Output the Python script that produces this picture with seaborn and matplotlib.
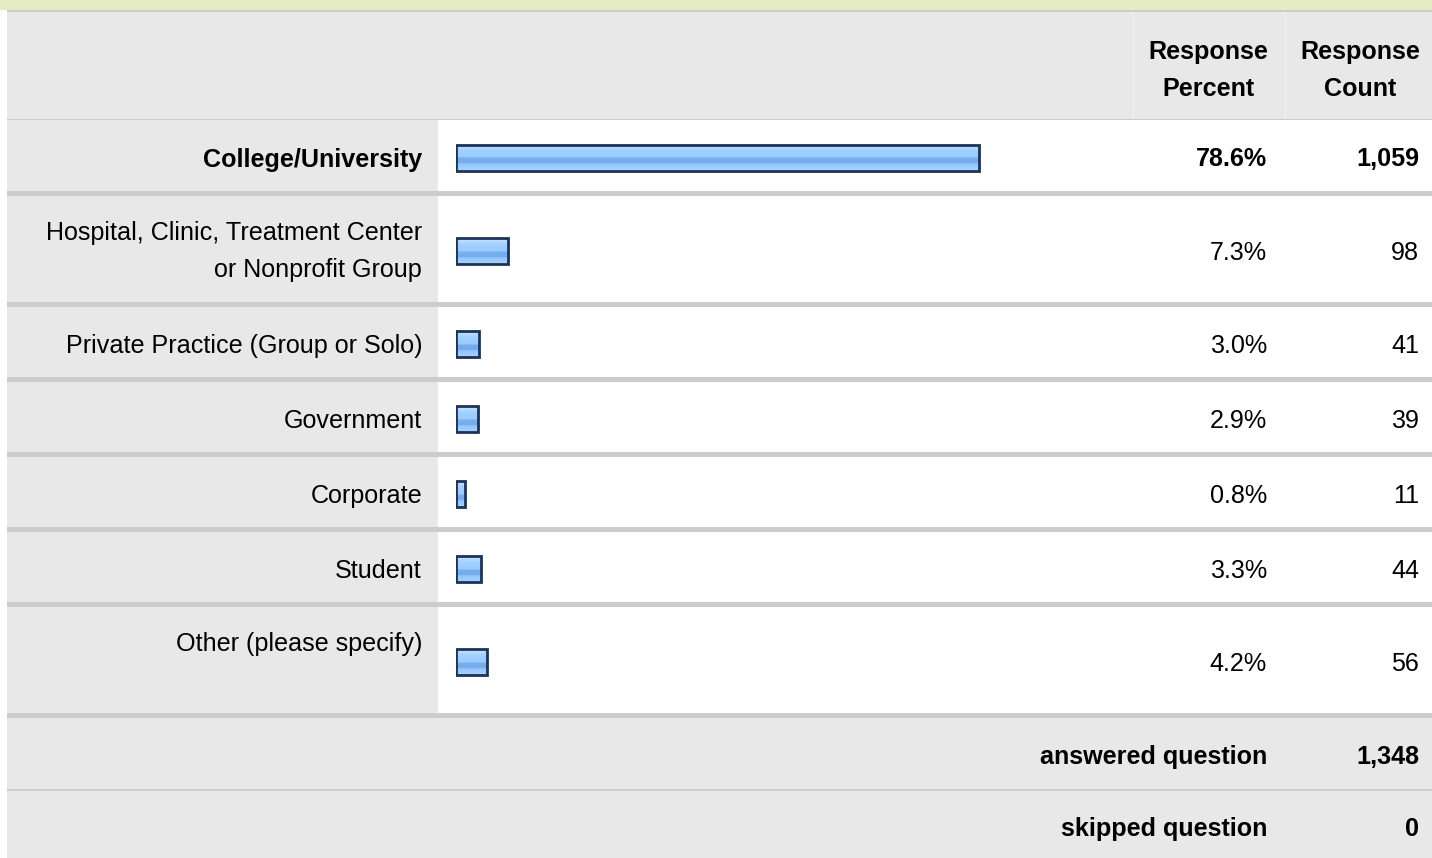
import numpy as np
import pandas as pd
import seaborn as sns
import matplotlib.pyplot as plt
from matplotlib.patches import Rectangle
from matplotlib.colors import LinearSegmentedColormap

# survey answers
categories = ["College/University",
              "Hospital, Clinic, Treatment Center\nor Nonprofit Group",
              "Private Practice (Group or Solo)",
              "Government",
              "Corporate",
              "Student",
              "Other (please specify)"]
percents = [78.6, 7.3, 3.0, 2.9, 0.8, 3.3, 4.2]
counts = [1059, 98, 41, 39, 11, 44, 56]
answered = 1348
skipped = 0

W, H = 1432, 858
GRAY = "#e8e8e8"
LINE = "#cccccc"
FS = 18.1
LH = 37  # line height in px

sns.set_theme(style="white")
plt.rcParams["font.family"] = ["Liberation Sans", "DejaVu Sans"]

fig = plt.figure(figsize=(W / 100, H / 100), dpi=100)
fig.patch.set_facecolor("white")
ax = fig.add_axes([0, 0, 1, 1])
ax.set_xlim(0, W)
ax.set_ylim(H, 0)
ax.axis("off")


def box(x, y, w, h, c):
    ax.add_patch(Rectangle((x, y), w, h, facecolor=c, edgecolor="none", zorder=0))


def label(x, base, s, ha="right", bold=False):
    for k, line in enumerate(s.split("\n")):
        ax.text(x, base + k * LH, line, ha=ha, va="baseline", fontsize=FS,
                color="black", fontweight="bold" if bold else "normal")


# header
box(0, 0, W, 10, "#e5ebc1")
box(7, 10, W - 7, 1.5, LINE)
box(7, 11.5, W - 7, 107, GRAY)
box(7, 118.5, W - 7, 1.5, LINE)
for xv in [1133, 1285]:
    ax.plot([xv, xv], [12, 118], color="#efefef", lw=1, zorder=1)
label(1208, 59.5, "Response\nPercent", ha="center", bold=True)
label(1360, 59.5, "Response\nCount", ha="center", bold=True)

# rows
row_heights = [71, 106, 70, 70, 70, 70, 106]
sep = 5
tops = []
y = 120
for h in row_heights:
    tops.append(y)
    y += h + sep
centers = [t + h / 2 for t, h in zip(tops, row_heights)]

for i, (t, h) in enumerate(zip(tops, row_heights)):
    box(7, t, 431, h, GRAY)
    box(438, t, W - 438, h, "white")
    box(7, t + h, W - 7, sep, LINE)
    bold = i == 0
    n_lines = categories[i].count("\n") + 1
    if categories[i].startswith("Other") or n_lines > 1:
        label(422, t + 44, categories[i], bold=bold)
    else:
        label(422, centers[i] + 11, categories[i], bold=bold)
    label(1267, centers[i] + 11, f"{percents[i]:.1f}%", bold=bold)
    label(1419, centers[i] + 11, f"{counts[i]:,}", bold=bold)

# footer
box(7, 718, W - 7, 71, GRAY)
box(7, 789, W - 7, 1.5, LINE)
box(7, 790.5, W - 7, 68, GRAY)
label(1267, 764, "answered question", bold=True)
label(1419, 764, f"{answered:,}", bold=True)
label(1267, 836, "skipped question", bold=True)
label(1419, 836, f"{skipped:,}", bold=True)

# bars
bx = fig.add_axes([456.4 / W, 0, 661 / W, 1])
bx.patch.set_alpha(0)
df = pd.DataFrame({"category": categories, "percent": percents,
                   "ypos": [c + 2 for c in centers]})
sns.barplot(data=df, x="percent", y="ypos", orient="y", native_scale=True,
            width=26 / 75, color="#99ccff", edgecolor="#1c3356", linewidth=2, ax=bx)

gloss = LinearSegmentedColormap.from_list(
    "gloss", [(0, "#d4eaff"), (0.12, "#b4d9ff"), (0.28, "#9fcfff"), (0.5, "#99ccff"),
              (0.54, "#78aeee"), (0.72, "#74abec"), (0.76, "#92c5fb"), (1, "#a6d2ff")])
grad = np.linspace(0, 1, 64).reshape(-1, 1)
for p in bx.patches:
    # small rendering pad so tiny bars keep a visible fill
    p.set_width(p.get_width() + 0.44)
    x0, y0, w, h = p.get_x(), p.get_y(), p.get_width(), p.get_height()
    p.set_facecolor("none")
    im = bx.imshow(grad, cmap=gloss, extent=(x0, x0 + w, y0 + h, y0), origin="upper",
                   aspect="auto", zorder=p.get_zorder() - 0.5)
    im.set_clip_path(p)

bx.set_xlim(0, 100)
bx.set_ylim(H, 0)
bx.axis("off")

fig.savefig("out.png", dpi=100)
